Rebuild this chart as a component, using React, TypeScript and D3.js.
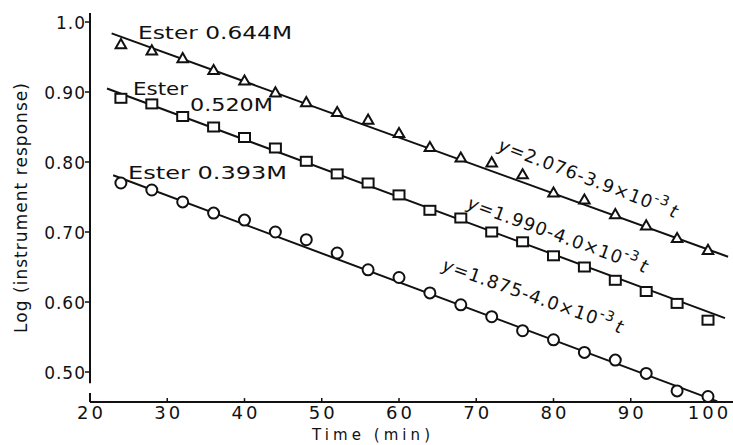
import React, { useEffect, useRef } from "react";
import * as d3 from "d3";

// time (min) for every reading
const times = [24, 28, 32, 36, 40, 44, 48, 52, 56, 60, 64, 68, 72, 76, 80, 84, 88, 92, 96, 100];

// log (instrument response)
const ester644 = [0.967, 0.958, 0.947, 0.930, 0.915, 0.898, 0.884, 0.870, 0.859, 0.840,
    0.820, 0.805, 0.798, 0.781, 0.755, 0.745, 0.724, 0.708, 0.690, 0.673];
const ester520 = [0.891, 0.883, 0.865, 0.850, 0.835, 0.820, 0.801, 0.783, 0.770, 0.753,
    0.731, 0.720, 0.700, 0.686, 0.666, 0.650, 0.631, 0.615, 0.598, 0.574];
const ester393 = [0.770, 0.760, 0.743, 0.727, 0.717, 0.700, 0.689, 0.670, 0.646, 0.635,
    0.613, 0.596, 0.579, 0.559, 0.546, 0.528, 0.517, 0.498, 0.473, 0.465];

// fitted lines: intercept, slope, drawn from fitStart to fitEnd
const fitIntercept = [1.075, 0.996, 0.876];
const fitSlope = [0.0040, 0.0041, 0.00413];
const fitStart = [22.8, 22.2, 23.0];
const fitEnd = [102.6, 102.2, 101.2];

const xTicks = [20, 30, 40, 50, 60, 70, 80, 90, 100];
const yTicks = [1.0, 0.9, 0.8, 0.7, 0.6, 0.5];
const yTickLabels = ["1.0", "0.90", "0.80", "0.70", "0.60", "0.50"];

const FONT = "DejaVu Sans, sans-serif";

function App() {
    const svgRef = useRef<SVGSVGElement>(null);

    useEffect(() => {
        const width = 733;
        const height = 445;

        const x = d3.scaleLinear().domain([20, 100]).range([90, 708]);
        const y = d3.scaleLinear().domain([0.5, 1.0]).range([372, 22]);

        const svg = d3.select(svgRef.current);
        svg.selectAll("*").remove();
        svg.attr("width", width).attr("height", height);

        const ink = "#111";

        // axes
        svg.append("line")
            .attr("x1", 90).attr("x2", 90)
            .attr("y1", y(1.013)).attr("y2", y(0.484))
            .attr("stroke", ink).attr("stroke-width", 2);
        svg.append("line")
            .attr("x1", 90).attr("x2", 733)
            .attr("y1", y(0.457)).attr("y2", y(0.457))
            .attr("stroke", ink).attr("stroke-width", 2);
        svg.append("line")
            .attr("x1", 90).attr("x2", 90)
            .attr("y1", y(0.470)).attr("y2", y(0.457))
            .attr("stroke", ink).attr("stroke-width", 2);

        // y ticks + labels
        svg.selectAll("line.ytick")
            .data(yTicks)
            .enter()
            .append("line")
            .attr("x1", 85).attr("x2", 90)
            .attr("y1", d => y(d)).attr("y2", d => y(d))
            .attr("stroke", ink).attr("stroke-width", 1.5);
        svg.selectAll("text.ylab")
            .data(yTicks)
            .enter()
            .append("text")
            .attr("x", 86)
            .attr("y", d => y(d) + 6.5)
            .attr("text-anchor", "end")
            .attr("font-family", FONT)
            .attr("font-size", 17)
            .attr("letter-spacing", 1)
            .attr("fill", ink)
            .text((d, i) => yTickLabels[i]);

        // x ticks + labels
        svg.selectAll("line.xtick")
            .data(xTicks.slice(1))
            .enter()
            .append("line")
            .attr("x1", d => x(d)).attr("x2", d => x(d))
            .attr("y1", y(0.457) - 4).attr("y2", y(0.457))
            .attr("stroke", ink).attr("stroke-width", 1.5);
        svg.selectAll("text.xlab")
            .data(xTicks)
            .enter()
            .append("text")
            .attr("x", d => x(d) + 1.5)
            .attr("y", 419)
            .attr("text-anchor", "middle")
            .attr("font-family", FONT)
            .attr("font-size", 18)
            .attr("letter-spacing", 3)
            .attr("fill", ink)
            .text(d => d);

        // axis titles
        svg.append("text")
            .attr("x", 371).attr("y", 440)
            .attr("text-anchor", "middle")
            .attr("font-family", FONT)
            .attr("font-size", 15)
            .attr("textLength", 118)
            .attr("fill", ink)
            .text("Time (min)");
        svg.append("text")
            .attr("transform", "translate(27,208) rotate(-90)")
            .attr("text-anchor", "middle")
            .attr("font-family", FONT)
            .attr("font-size", 17)
            .attr("textLength", 250)
            .attr("fill", ink)
            .text("Log (instrument response)");

        // fitted lines
        fitIntercept.forEach((a, i) => {
            const pts = [fitStart[i], fitEnd[i]].map(t => [x(t), y(a - fitSlope[i] * t)] as [number, number]);
            svg.append("path")
                .attr("d", d3.line()(pts))
                .attr("stroke", ink)
                .attr("stroke-width", 2)
                .attr("fill", "none");
        });

        // markers
        const tri = d3.symbol().type(d3.symbolTriangle).size(48);
        svg.selectAll("path.tri")
            .data(ester644)
            .enter()
            .append("path")
            .attr("d", tri())
            .attr("transform", (d, i) => `translate(${x(times[i])},${y(d)})`)
            .attr("fill", "#fff")
            .attr("stroke", ink)
            .attr("stroke-width", 2);

        svg.selectAll("rect.sq")
            .data(ester520)
            .enter()
            .append("rect")
            .attr("x", (d, i) => x(times[i]) - 5.5)
            .attr("y", d => y(d) - 4.5)
            .attr("width", 11)
            .attr("height", 9)
            .attr("fill", "#fff")
            .attr("stroke", ink)
            .attr("stroke-width", 2);

        svg.selectAll("circle.c")
            .data(ester393)
            .enter()
            .append("circle")
            .attr("cx", (d, i) => x(times[i]))
            .attr("cy", d => y(d))
            .attr("r", 5.5)
            .attr("fill", "#fff")
            .attr("stroke", ink)
            .attr("stroke-width", 2);

        // series labels
        const labels = [
            { text: "Ester 0.644M", x: 138, y: 39, len: 154 },
            { text: "Ester", x: 133, y: 95, len: 55 },
            { text: "0.520M", x: 190, y: 111, len: 83 },
            { text: "Ester 0.393M", x: 128, y: 179, len: 159 },
        ];
        svg.selectAll("text.series")
            .data(labels)
            .enter()
            .append("text")
            .attr("x", d => d.x)
            .attr("y", d => d.y)
            .attr("font-family", FONT)
            .attr("font-size", 18.5)
            .attr("textLength", d => d.len)
            .attr("lengthAdjust", "spacingAndGlyphs")
            .attr("fill", ink)
            .text(d => d.text);

        // equations along the lines
        const eqs = [
            { a: "2.076", b: "3.9", x: 497, y: 150, angle: 21 },
            { a: "1.990", b: "4.0", x: 466, y: 208, angle: 20 },
            { a: "1.875", b: "4.0", x: 441, y: 270, angle: 19.5 },
        ];
        eqs.forEach(e => {
            const t = svg.append("text")
                .attr("transform", `translate(${e.x},${e.y}) rotate(${e.angle})`)
                .attr("font-family", FONT)
                .attr("font-size", 18)
                .attr("letter-spacing", 1)
                .attr("fill", ink);
            t.append("tspan").attr("font-style", "italic").text("y");
            t.append("tspan").text(`=${e.a}-${e.b}×10`);
            t.append("tspan").attr("dy", -8).attr("font-size", 14).text("-3");
            t.append("tspan").attr("dy", 8).attr("dx", 3).attr("font-style", "italic").text("t");
        });
    }, []);

    return (
        <div>
            <svg ref={svgRef} style={{ position: "absolute", left: 0, top: 0, background: "#fff" }} />
        </div>
    );
}

export default App;
